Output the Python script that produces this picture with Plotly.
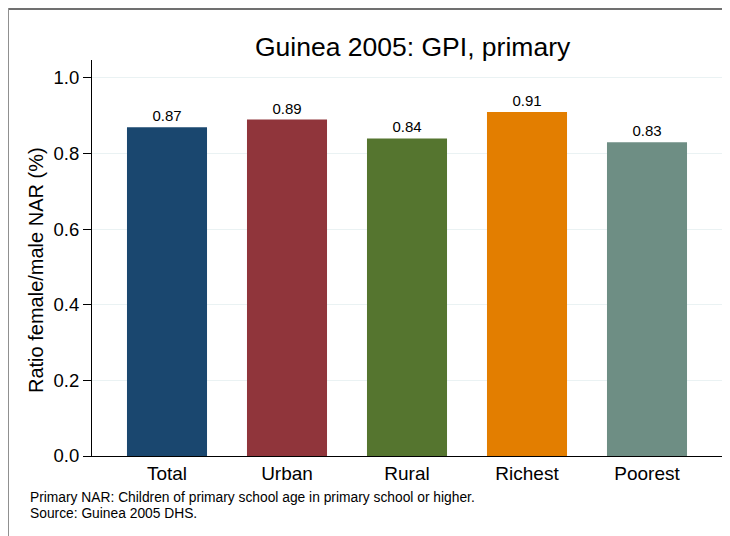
import plotly.graph_objects as go

categories = ["Total", "Urban", "Rural", "Richest", "Poorest"]
values = [0.87, 0.89, 0.84, 0.91, 0.83]
labels = ["0.87", "0.89", "0.84", "0.91", "0.83"]
colors = ["#1a476f", "#90353b", "#55752f", "#e37e00", "#6e8e84"]
y_ticks = [0.0, 0.2, 0.4, 0.6, 0.8, 1.0]
y_ticklabels = ["0.0", "0.2", "0.4", "0.6", "0.8", "1.0"]

OFF = 8  # page body margin
W, H = 722, 528
L, R, T, B = 84, 8, 52, 80
pw, ph = W - L - R, H - T - B

def px(x):
    return (x - OFF - L) / pw

def py(y):
    return (H - B - (y - OFF)) / ph

FONT = "Liberation Sans, Arial, sans-serif"

fig = go.Figure(go.Bar(
    x=list(range(len(categories))), y=values,
    marker=dict(color=colors, line=dict(width=0)),
    text=labels, textposition="outside", cliponaxis=False,
    textfont=dict(size=15, color="#000000", family=FONT),
    width=0.667,
))

fig.update_layout(
    width=W, height=H,
    margin=dict(l=L, r=R, t=T, b=B, autoexpand=False),
    paper_bgcolor="white", plot_bgcolor="white",
    showlegend=False,
    font=dict(family=FONT, color="#000000"),
    xaxis=dict(range=[-0.625, 4.625], tickmode="array", tickvals=list(range(len(categories))),
               ticktext=categories, showgrid=False, zeroline=False,
               showline=True, linecolor="#000000", linewidth=1, ticks="",
               tickfont=dict(size=19, color="#000000")),
    yaxis=dict(range=[0, 1.0476], tickmode="array", tickvals=y_ticks, ticktext=y_ticklabels,
               showgrid=True, gridcolor="#eaf2f3", gridwidth=1, zeroline=False,
               showline=True, linecolor="#000000", linewidth=1,
               ticks="outside", ticklen=8, tickcolor="#000000",
               tickfont=dict(size=18.5, color="#000000")),
    shapes=[
        dict(type="line", xref="paper", yref="paper", x0=px(8), x1=px(740), y0=py(9), y1=py(9),
             line=dict(color="#707070", width=2)),
        dict(type="line", xref="paper", yref="paper", x0=px(8.5), x1=px(8.5), y0=py(8), y1=py(540),
             line=dict(color="#909090", width=1)),
    ],
    annotations=[
        dict(text="Guinea 2005: GPI, primary", xref="paper", yref="paper",
             x=px(413), y=py(47), xanchor="center", yanchor="middle", showarrow=False,
             font=dict(size=26.5, color="#000000")),
        dict(text="Ratio female/male NAR (%)", textangle=-90, xref="paper", yref="paper",
             x=px(36), y=py(270), xanchor="center", yanchor="middle", showarrow=False,
             font=dict(size=20, color="#000000")),
        dict(text="Primary NAR: Children of primary school age in primary school or higher.",
             xref="paper", yref="paper", x=px(28), y=py(498), xanchor="left", yanchor="middle",
             showarrow=False, font=dict(size=13.8, color="#000000")),
        dict(text="Source: Guinea 2005 DHS.",
             xref="paper", yref="paper", x=px(28), y=py(513), xanchor="left", yanchor="middle",
             showarrow=False, font=dict(size=13.8, color="#000000")),
    ],
)

fig.write_html("out.html")
